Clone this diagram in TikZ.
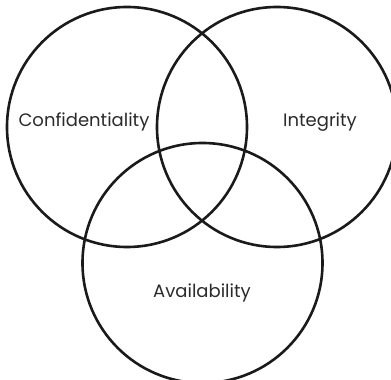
\documentclass[tikz,border=0pt]{standalone}
\usepackage{fontspec}
\setmainfont{Poppins}
\definecolor{ink}{HTML}{1A1A1A}
\definecolor{txt}{HTML}{2B2B2B}
\begin{document}
\begin{tikzpicture}[x=1pt,y=1pt,
  ring/.style={circle, draw=ink, line width=2.6pt, minimum size=240pt, inner sep=0pt},
  lbl/.style={text=txt, font=\fontsize{18}{21}\selectfont, inner sep=0pt}]
\useasboundingbox (0,0) rectangle (391,380);
\clip (0,0) rectangle (391,380);
\node[ring] (conf) at (127,253) {};
\node[ring] (integ) at (277,253) {};
\node[ring] (avail) at (202.5,117) {};
\node[lbl] (tc) at (84,258) {Confidentiality};
\node[lbl] (ti) at (320,258) {Integrity};
\node[lbl] (ta) at (202,87) {Availability};
\end{tikzpicture}
\end{document}
